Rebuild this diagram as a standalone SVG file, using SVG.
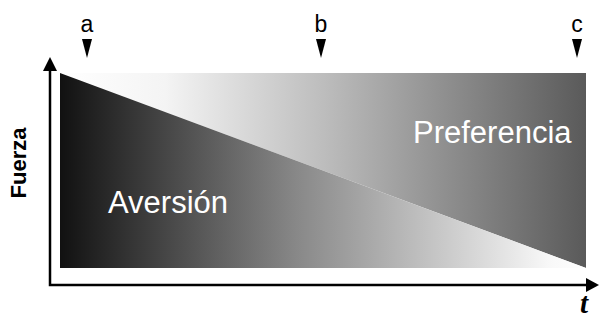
<svg xmlns="http://www.w3.org/2000/svg" width="601" height="321" viewBox="0 0 601 321">
<defs>
<linearGradient id="gLow" x1="60" y1="0" x2="586" y2="0" gradientUnits="userSpaceOnUse">
<stop offset="0" stop-color="#111"/>
<stop offset="0.45" stop-color="#888"/>
<stop offset="0.93" stop-color="#f8f8f8"/>
<stop offset="1" stop-color="#fff"/>
</linearGradient>
<linearGradient id="gUp" x1="60" y1="0" x2="586" y2="0" gradientUnits="userSpaceOnUse">
<stop offset="0" stop-color="#fff"/>
<stop offset="0.2" stop-color="#f4f4f4"/>
<stop offset="0.5" stop-color="#bdbdbd"/>
<stop offset="1" stop-color="#5a5a5a"/>
</linearGradient>
<style>
.ax{fill:none;stroke:#000;stroke-width:2.5}
.ah{fill:#000}
.lbl{font-family:"Liberation Sans",Arial,sans-serif;font-size:23px;fill:#000}
.big{font-family:"Liberation Sans",Arial,sans-serif;font-size:31px;fill:#fff}
</style>
</defs>
<g id="plot">
<polygon points="60,73 586,73 586,268" fill="url(#gUp)"/>
<polygon points="60,73 586,268 60,268" fill="url(#gLow)"/>
</g>
<g id="connectors">
<path class="ax" d="M50,68 V285 H590"/>
<polygon class="ah" points="43,71 50,57 57,71"/>
<polygon class="ah" points="586,278 599,285 586,292"/>
</g>
<g id="marker-a">
<text class="lbl" x="87" y="32" text-anchor="middle">a</text>
<polygon class="ah" points="82,39 92,39 87,58"/>
</g>
<g id="marker-b">
<text class="lbl" x="321" y="32" text-anchor="middle">b</text>
<polygon class="ah" points="316,39 326,39 321,58"/>
</g>
<g id="marker-c">
<text class="lbl" x="577" y="32" text-anchor="middle">c</text>
<polygon class="ah" points="572,39 582,39 577,58"/>
</g>
<g id="aversion">
<text class="big" x="108" y="213">Aversión</text>
</g>
<g id="preferencia">
<text class="big" x="413" y="143">Preferencia</text>
</g>
<g id="y-label">
<text x="26" y="163" transform="rotate(-90 26 163)" text-anchor="middle" font-family="Liberation Sans,Arial,sans-serif" font-weight="bold" font-size="22">Fuerza</text>
</g>
<g id="x-label">
<text x="584" y="313" text-anchor="middle" font-family="Liberation Serif,Times New Roman,serif" font-weight="bold" font-style="italic" font-size="29">t</text>
</g>
</svg>
